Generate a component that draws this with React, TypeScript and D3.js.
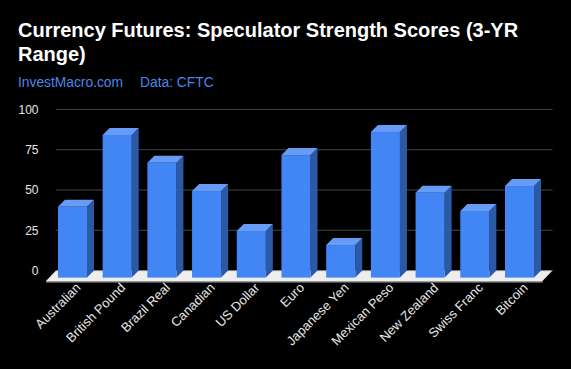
import React from "react";
import * as d3 from "d3";

const categories = ["Australian", "British Pound", "Brazil Real", "Canadian", "US Dollar", "Euro", "Japanese Yen", "Mexican Peso", "New Zealand", "Swiss Franc", "Bitcoin"];
const scores = [44, 88.5, 71.3, 53.7, 28.9, 76, 20.2, 90.3, 52.7, 41.3, 56.8];
const yTicks = [0, 25, 50, 75, 100];
const titleLines = ["Currency Futures: Speculator Strength Scores (3-YR", "Range)"];
const sourceText = "InvestMacro.com";
const dataText = "Data: CFTC";

const W = 571, H = 369;
const DEPTH = 7;
const FLOOR_DX = 10, FLOOR_DY = 10.5;

export default function App() {
  const x = d3.scaleBand<string>().domain(categories).range([49, 543]).paddingInner(0.35).paddingOuter(0.2);
  const y = d3.scaleLinear().domain([0, 100]).range([270.6, 109.4]);
  const bw = x.bandwidth();
  const gridX0 = 56, gridX1 = 552.5;
  const y0 = y(0);
  const font = "Arial, 'Liberation Sans', sans-serif";

  const floorTop = `M${gridX0},${y0} L${gridX1},${y0} L${gridX1 - FLOOR_DX},${y0 + FLOOR_DY} L${gridX0 - FLOOR_DX},${y0 + FLOOR_DY} Z`;
  const floorEdge = `M${gridX0 - FLOOR_DX},${y0 + FLOOR_DY} L${gridX1 - FLOOR_DX},${y0 + FLOOR_DY} L${gridX1 - FLOOR_DX},${y0 + FLOOR_DY + 1.5} L${gridX0 - FLOOR_DX},${y0 + FLOOR_DY + 1.5} Z`;

  return (
    <svg width={W} height={H} style={{ position: "absolute", left: 0, top: 0, background: "#000" }} xmlns="http://www.w3.org/2000/svg">
      <rect x={0} y={0} width={W} height={H} fill="#000" />
      {titleLines.map((t, i) => (
        <text key={i} x={18} y={36.5 + i * 24} fill="#fff" fontFamily={font} fontWeight="bold" fontSize={20}>{t}</text>
      ))}
      <text x={18} y={86.5} fill="#4a86e8" fontFamily={font} fontSize={13.8}>{sourceText}</text>
      <text x={140} y={86.5} fill="#4a86e8" fontFamily={font} fontSize={13.8}>{dataText}</text>

      {yTicks.map((t) => (
        <g key={t}>
          {t !== 0 && <line x1={gridX0} x2={gridX1} y1={y(t)} y2={y(t)} stroke="#444" strokeWidth={1} />}
          <text x={38.5} y={y(t)} dy="0.35em" textAnchor="end" fill="#e6e6e6" fontFamily={font} fontSize={12}>{t}</text>
        </g>
      ))}

      <path d={floorTop} fill="#eeeeee" />
      <path d={floorEdge} fill="#9a9a9a" />
      <line x1={gridX0} x2={gridX1} y1={y0} y2={y0} stroke="#888" strokeWidth={1} />

      {categories.map((c, i) => {
        const fx = x(c) as number;
        const top = y(scores[i]) + DEPTH;
        const bottom = y0 + DEPTH;
        const right = fx + bw;
        const topFace = `M${fx},${top} L${fx + DEPTH},${top - DEPTH} L${right + DEPTH},${top - DEPTH} L${right},${top} Z`;
        const sideFace = `M${right},${top} L${right + DEPTH},${top - DEPTH} L${right + DEPTH},${bottom - DEPTH} L${right},${bottom} Z`;
        return (
          <g key={c}>
            <path d={sideFace} fill="#2c59a6" />
            <path d={topFace} fill="#669cf6" />
            <rect x={fx} y={top} width={bw} height={bottom - top} fill="#4285f4" />
          </g>
        );
      })}

      {categories.map((c) => {
        const cx = (x(c) as number) + bw / 2 + 9;
        const ly = 288.5;
        return (
          <text key={c} x={cx} y={ly} transform={`rotate(-45 ${cx} ${ly})`} textAnchor="end" fill="#e6e6e6" fontFamily={font} fontSize={13}>{c}</text>
        );
      })}
    </svg>
  );
}
